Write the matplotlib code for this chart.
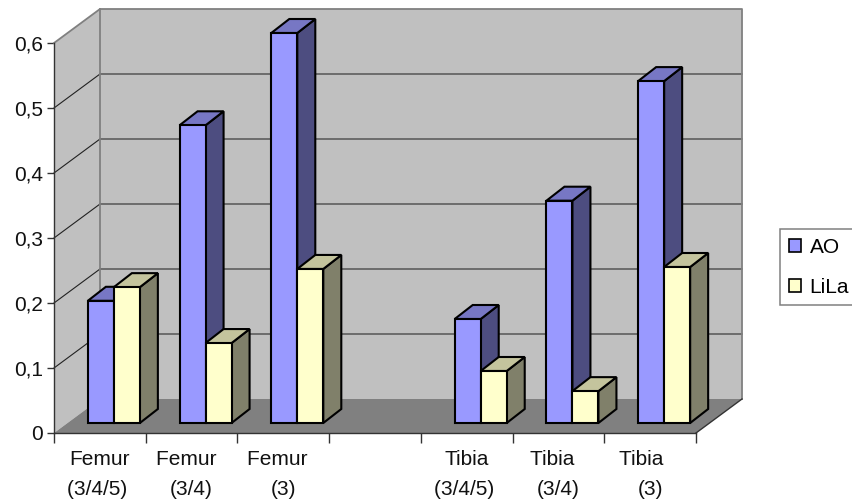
import matplotlib
matplotlib.use('Agg')
import matplotlib.pyplot as plt
from matplotlib.patches import Polygon, Patch

plt.rcParams['font.family'] = ['Liberation Sans', 'DejaVu Sans']

# the blank category keeps the gap between femur and tibia
categorias = ['Femur\n(3/4/5) ', 'Femur  \n(3/4)', 'Femur  \n(3)', '',
              'Tibia\n(3/4/5) ', 'Tibia  \n(3/4)', 'Tibia   \n(3)']
AO = [0.188, 0.458, 0.600, None, 0.160, 0.342, 0.526]
LiLa = [0.209, 0.123, 0.237, None, 0.080, 0.049, 0.240]
yticks = [0, 0.1, 0.2, 0.3, 0.4, 0.5, 0.6]
ylabels = ['0', '0,1', '0,2', '0,3', '0,4', '0,5', '0,6']

# depth of the fake 3D box, in data units
prof_x = 46 / 91.7
prof_y = 34 / 650
# bars: width, depth and shift from the front of the floor
ancho = 26 / 91.7
barra_x = 18 / 91.7
barra_y = 14 / 650
desp_x = 14 / 91.7
desp_y = 10 / 650

fig = plt.figure(figsize=(8.53, 5.01), dpi=100)
ax = fig.add_axes([54 / 853, 68 / 501, 642 / 853, 390 / 501])
ax.set_xlim(0, 7)
ax.set_ylim(0, 0.6)
ax.patch.set_visible(False)


def cara(puntos, color, borde='none', lw=0, z=1):
    ax.add_patch(Polygon(puntos, closed=True, facecolor=color, edgecolor=borde,
                         linewidth=lw, zorder=z, clip_on=False, joinstyle='miter'))


def barra(x, valor, frente, tapa, lado, z):
    y0 = desp_y
    y1 = desp_y + valor
    x1 = x + ancho
    dx = barra_x
    dy = barra_y
    cara([(x1, y0), (x1 + dx, y0 + dy), (x1 + dx, y1 + dy), (x1, y1)], lado, 'black', 1.5, z)
    cara([(x, y1), (x1, y1), (x1 + dx, y1 + dy), (x + dx, y1 + dy)], tapa, 'black', 1.5, z)
    cara([(x, y0), (x1, y0), (x1, y1), (x, y1)], frente, 'black', 1.5, z)


# walls and floor
cara([(prof_x, prof_y), (7 + prof_x, prof_y), (7 + prof_x, 0.6 + prof_y), (prof_x, 0.6 + prof_y)], '#C0C0C0')
cara([(0, 0), (prof_x, prof_y), (prof_x, 0.6 + prof_y), (0, 0.6)], '#C0C0C0')
cara([(0, 0), (7, 0), (7 + prof_x, prof_y), (prof_x, prof_y)], '#808080')

for t in yticks[1:-1]:
    ax.plot([prof_x, 7 + prof_x], [t + prof_y, t + prof_y], color='#555555', lw=1.1, zorder=2, clip_on=False)
    ax.plot([0, prof_x], [t, t + prof_y], color='#222222', lw=0.8, zorder=2, clip_on=False)

# wall outline
ax.plot([0, prof_x, 7 + prof_x, 7 + prof_x], [0.6, 0.6 + prof_y, 0.6 + prof_y, prof_y],
        color='#808080', lw=1.3, zorder=2, clip_on=False)
ax.plot([prof_x, prof_x], [prof_y, 0.6 + prof_y], color='#808080', lw=1.3, zorder=2, clip_on=False)
ax.plot([7, 7 + prof_x], [0, prof_y], color='#333333', lw=1.0, zorder=2, clip_on=False)

z = 3
for i in range(len(categorias)):
    if AO[i] is None:
        continue
    centro = i + 0.5 + desp_x
    barra(centro - ancho, AO[i], '#9999FF', '#7777C4', '#4D4D80', z)
    barra(centro, LiLa[i], '#FFFFCC', '#C4C49D', '#80806A', z + 1)
    z += 2

for s in ['top', 'right']:
    ax.spines[s].set_visible(False)
for s in ['left', 'bottom']:
    ax.spines[s].set_color('#333333')
    ax.spines[s].set_linewidth(1.0)
    ax.spines[s].set_zorder(20)

ax.set_yticks(yticks)
ax.set_yticklabels(ylabels)
ax.set_xticks(range(8))
ax.set_xticklabels([])
ax.set_xticks([i + 0.5 for i in range(7)], minor=True)
ax.set_xticklabels(categorias, minor=True, linespacing=1.75)
ax.tick_params(axis='y', length=5, width=1, color='#333333', labelsize=15, pad=3, labelcolor='#111111')
ax.tick_params(axis='x', which='major', length=7, width=1, color='#333333')
ax.tick_params(axis='x', which='minor', length=0, labelsize=15, pad=12, labelcolor='#111111')

manijas = [Patch(facecolor='#9999FF', edgecolor='black', linewidth=1.2),
           Patch(facecolor='#FFFFCC', edgecolor='black', linewidth=1.2)]
ley = fig.legend(manijas, ['AO', 'LiLa'], loc='upper left', bbox_to_anchor=(780 / 853, 1 - 229 / 501),
                 fontsize=15, fancybox=False, framealpha=1, edgecolor='#808080',
                 handlelength=0.58, handleheight=0.58, handletextpad=0.42, labelspacing=1.0,
                 borderaxespad=0, borderpad=0.42)
ley.get_frame().set_linewidth(1.1)

fig.savefig('out.png', dpi=100)
